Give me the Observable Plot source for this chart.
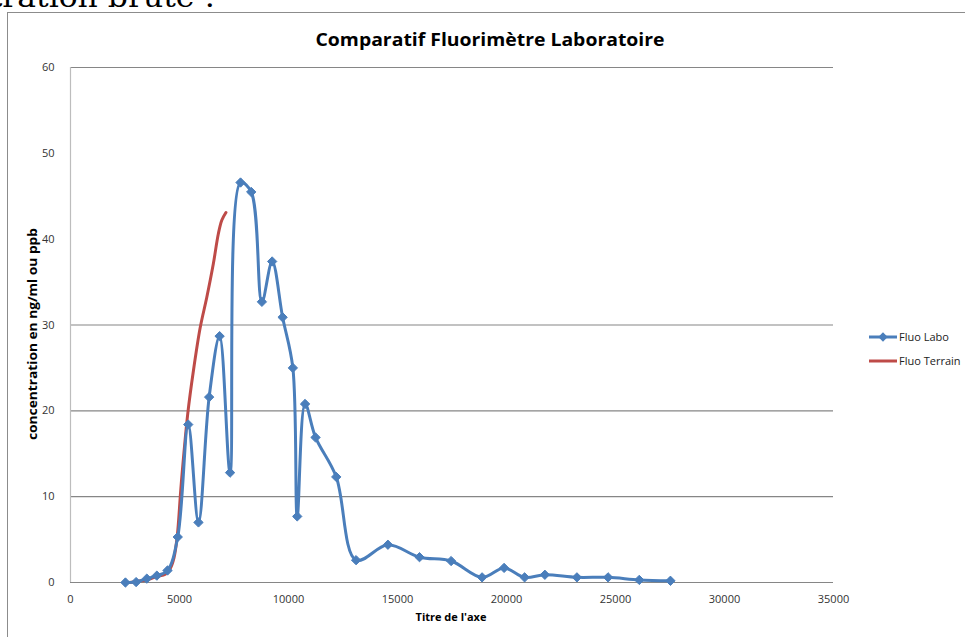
<!DOCTYPE html>
<html>
<head>
<meta charset="utf-8">
<script src="https://cdn.jsdelivr.net/npm/d3@7"></script>
<script src="https://cdn.jsdelivr.net/npm/@observablehq/plot@0.6"></script>
<style>
  html, body { margin: 0; padding: 0; background: #fff; }
  #wrap { position: relative; width: 965px; height: 637px; overflow: hidden; background: #fff; }
  #frame { position: absolute; left: 7px; top: 12px; width: 1000px; height: 700px; border: 1.5px solid #8c8c8c; box-sizing: border-box; }
  #chart { position: absolute; left: 0; top: 0; }
  #overlay { position: absolute; left: 0; top: 0; }
</style>
</head>
<body>
<div id="wrap">
  <div id="frame"></div>
  <div id="chart"></div>
  <svg id="overlay" width="965" height="637"></svg>
</div>
<script>
// ---- data ----
const titleText = "Comparatif Fluorimètre Laboratoire";
const yLabel = "concentration en ng/ml ou ppb";
const xLabel = "Titre de l'axe";
const headingText = "Concentration brute :";
const seriesNames = ["Fluo Labo", "Fluo Terrain"];
const seriesColors = ["#4a7ebb", "#be4b48"];

const xTicks = [0, 5000, 10000, 15000, 20000, 25000, 30000, 35000];
const yTicks = [0, 10, 20, 30, 40, 50, 60];
const gridY = [0, 10, 20, 30, 60];

const laboX = [2520, 3010, 3500, 3960, 4450, 4920, 5400, 5870, 6360, 6840, 7320, 7800, 8290, 8780, 9250, 9730, 10200, 10400, 10760, 11240, 12190, 13100, 14560, 16010, 17460, 18880, 19890, 20830, 21760, 23230, 24660, 26090, 27520];
const laboY = [0.0, 0.05, 0.45, 0.8, 1.4, 5.3, 18.4, 7.0, 21.6, 28.7, 12.8, 46.6, 45.5, 32.7, 37.4, 30.9, 25.0, 7.7, 20.8, 16.9, 12.3, 2.6, 4.4, 2.95, 2.5, 0.6, 1.7, 0.6, 0.9, 0.6, 0.6, 0.3, 0.2];

const terrX = [2750, 3100, 3500, 3950, 4350, 4570, 4750, 4900, 5080, 5380, 5640, 5950, 6250, 6550, 6780, 6940, 7130];
const terrY = [0, 0.15, 0.3, 0.7, 0.95, 1.6, 2.9, 5.5, 11.5, 19.7, 24.7, 29.7, 33.2, 37.1, 40.6, 42.2, 43.1];

const labo = laboX.map((x, i) => ({x, y: laboY[i]}));
const terr = terrX.map((x, i) => ({x, y: terrY[i]}));

const tickFont = "Open Sans, sans-serif";

const plot = Plot.plot({
  width: 965,
  height: 637,
  marginLeft: 70,
  marginRight: 132,
  marginTop: 67,
  marginBottom: 55,
  style: {background: "transparent", fontFamily: tickFont, fontSize: "11px", color: "#333"},
  x: {domain: [0, 35000]},
  y: {domain: [0, 60]},
  marks: [
    Plot.ruleY(gridY, {stroke: "#868686", strokeWidth: 1.2}),
    Plot.ruleX([0], {stroke: "#bdbdbd", strokeWidth: 1.2}),
    Plot.axisX({ticks: xTicks, tickSize: 0, tickPadding: 13, tickFormat: d3.format("d"), label: null, fill: "#333", fontSize: 11}),
    Plot.axisY({ticks: yTicks, tickSize: 0, tickPadding: 16, tickFormat: d3.format("d"), label: null, fill: "#333", fontSize: 11}),
    Plot.line(terr, {x: "x", y: "y", stroke: seriesColors[1], strokeWidth: 3, curve: "catmull-rom"}),
    Plot.line(labo, {x: "x", y: "y", stroke: seriesColors[0], strokeWidth: 3, curve: "catmull-rom"}),
    Plot.dot(labo, {x: "x", y: "y", symbol: "diamond2", r: 4.2, fill: seriesColors[0], stroke: seriesColors[0], strokeWidth: 1})
  ]
});
document.getElementById("chart").appendChild(plot);

// ---- overlay: titles, cut-off heading and legend ----
const ov = d3.select("#overlay");
ov.append("text")
  .attr("x", 215).attr("y", 7)
  .attr("text-anchor", "end")
  .attr("font-family", "DejaVu Serif, serif")
  .attr("font-size", 27)
  .attr("textLength", 345).attr("lengthAdjust", "spacingAndGlyphs")
  .attr("fill", "#000")
  .text(headingText);

ov.append("text")
  .attr("x", 490).attr("y", 46)
  .attr("text-anchor", "middle")
  .attr("font-family", "Open Sans, sans-serif")
  .attr("font-size", 18.5).attr("font-weight", "bold")
  .attr("textLength", 349).attr("lengthAdjust", "spacingAndGlyphs")
  .attr("fill", "#000")
  .text(titleText);

ov.append("text")
  .attr("transform", "translate(37,334) rotate(-90)")
  .attr("text-anchor", "middle")
  .attr("font-family", "Open Sans, sans-serif")
  .attr("font-size", 12).attr("font-weight", "bold")
  .attr("textLength", 212).attr("lengthAdjust", "spacingAndGlyphs")
  .attr("fill", "#000")
  .text(yLabel);

ov.append("text")
  .attr("x", 451).attr("y", 621)
  .attr("text-anchor", "middle")
  .attr("font-family", "Open Sans, sans-serif")
  .attr("font-size", 11).attr("font-weight", "bold")
  .attr("fill", "#000")
  .text(xLabel);

const lg = ov.append("g").attr("transform", "translate(869,337)");
seriesNames.forEach((name, i) => {
  const g = lg.append("g").attr("transform", `translate(0,${i * 24})`);
  g.append("line").attr("x1", 0).attr("x2", 28).attr("y1", 0).attr("y2", 0)
    .attr("stroke", seriesColors[i]).attr("stroke-width", 3);
  if (i === 0) {
    g.append("path").attr("d", d3.symbol(d3.symbolDiamond2, Math.PI * 4.2 * 4.2)())
      .attr("transform", "translate(14,0)").attr("fill", seriesColors[i]);
  }
  g.append("text").attr("x", 30).attr("y", 0).attr("dy", "0.35em")
    .attr("font-family", "Open Sans, sans-serif").attr("font-size", 11)
    .attr("fill", "#222").text(name);
});
</script>
</body>
</html>
